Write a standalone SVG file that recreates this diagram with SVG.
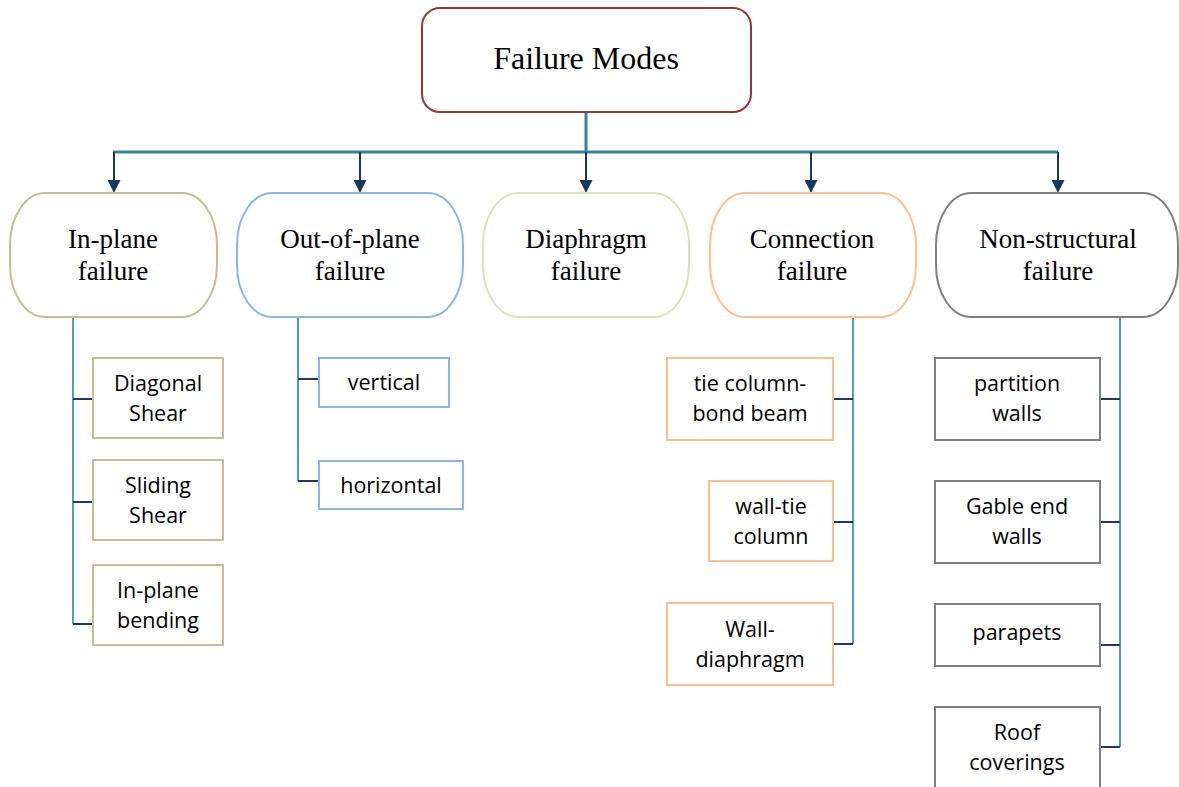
<svg xmlns="http://www.w3.org/2000/svg" width="1179" height="787" viewBox="0 0 1179 787">
<style>
.bg{fill:#ffffff}
.serif{font-family:"Liberation Serif","Times New Roman",serif;fill:#000;text-anchor:middle}
.top{font-size:32px}
.l2{font-size:27px}
.leaf{font-family:"Open Sans","Liberation Sans",sans-serif;font-size:21.5px;fill:#000;text-anchor:middle}
.box{fill:#fff;stroke-width:2}
.trunk{stroke:#31849B;stroke-width:3;fill:none}
.arrow{stroke:#17375E;stroke-width:2;fill:none}
.vbr{stroke:#31849B;stroke-width:1.6;fill:none}
.hbr{stroke:#1F3864;stroke-width:2;fill:none}
.tan{stroke:#C4BD97}
.blue{stroke:#8EB4E3}
.green{stroke:#D7E4BD}
.orange{stroke:#FAC090}
.gray{stroke:#7F7F7F}
</style>
<defs>
<marker id="ah" markerUnits="userSpaceOnUse" markerWidth="13" markerHeight="13" refX="0" refY="6.5" orient="auto">
<path d="M0,0 L13,6.5 L0,13 z" fill="#17375E"/>
</marker>
</defs>
<rect class="bg" x="0" y="0" width="1179" height="787"/>

<g id="connectors">
<path class="trunk" d="M586,112 V152 M113,152 H1058"/>
<path class="arrow" marker-end="url(#ah)" d="M114,152 V180"/>
<path class="arrow" marker-end="url(#ah)" d="M360,152 V180"/>
<path class="arrow" marker-end="url(#ah)" d="M586,152 V180"/>
<path class="arrow" marker-end="url(#ah)" d="M811,152 V180"/>
<path class="arrow" marker-end="url(#ah)" d="M1058,152 V180"/>
<path class="vbr" d="M73,317 V624"/>
<path class="hbr" d="M73,399 H93 M73,502 H93 M73,624 H93"/>
<path class="vbr" d="M298,317 V481"/>
<path class="hbr" d="M298,379 H319 M298,481 H319"/>
<path class="vbr" d="M853,317 V644"/>
<path class="hbr" d="M833,399 H853 M833,522 H853 M833,644 H853"/>
<path class="vbr" d="M1120,317 V747"/>
<path class="hbr" d="M1100,399 H1120 M1100,522 H1120 M1100,645 H1120 M1100,747 H1120"/>
</g>

<g id="failure-modes">
<rect class="box" x="422" y="8" width="329" height="104" rx="18" ry="18" stroke="#953735"/>
<text class="serif top" x="586" y="69">Failure Modes</text>
</g>

<g id="in-plane-failure">
<rect class="box tan" x="10" y="193" width="207" height="124" rx="35" ry="52"/>
<text class="serif l2" x="113" y="248">In-plane</text>
<text class="serif l2" x="113" y="280">failure</text>
</g>
<g id="out-of-plane-failure">
<rect class="box blue" x="237" y="193" width="226" height="124" rx="35" ry="52"/>
<text class="serif l2" x="350" y="248">Out-of-plane</text>
<text class="serif l2" x="350" y="280">failure</text>
</g>
<g id="diaphragm-failure">
<rect class="box green" x="483" y="193" width="206" height="124" rx="35" ry="52"/>
<text class="serif l2" x="586" y="248">Diaphragm</text>
<text class="serif l2" x="586" y="280">failure</text>
</g>
<g id="connection-failure">
<rect class="box orange" x="710" y="193" width="206" height="124" rx="35" ry="52"/>
<text class="serif l2" x="812" y="248">Connection</text>
<text class="serif l2" x="812" y="280">failure</text>
</g>
<g id="non-structural-failure">
<rect class="box gray" x="936" y="193" width="242" height="124" rx="35" ry="52"/>
<text class="serif l2" x="1058" y="248">Non-structural</text>
<text class="serif l2" x="1058" y="280">failure</text>
</g>

<g id="diagonal-shear">
<rect class="box tan" x="93" y="358" width="130" height="80"/>
<text class="leaf" x="158" y="391">Diagonal</text>
<text class="leaf" x="158" y="421">Shear</text>
</g>
<g id="sliding-shear">
<rect class="box tan" x="93" y="460" width="130" height="80"/>
<text class="leaf" x="158" y="493">Sliding</text>
<text class="leaf" x="158" y="523">Shear</text>
</g>
<g id="in-plane-bending">
<rect class="box tan" x="93" y="565" width="130" height="80"/>
<text class="leaf" x="158" y="598">In-plane</text>
<text class="leaf" x="158" y="628">bending</text>
</g>

<g id="vertical">
<rect class="box blue" x="319" y="358" width="130" height="49"/>
<text class="leaf" x="384" y="390">vertical</text>
</g>
<g id="horizontal">
<rect class="box blue" x="319" y="461" width="144" height="48"/>
<text class="leaf" x="391" y="493">horizontal</text>
</g>

<g id="tie-column-bond-beam">
<rect class="box orange" x="667" y="358" width="166" height="82"/>
<text class="leaf" x="750" y="391">tie column-</text>
<text class="leaf" x="750" y="421">bond beam</text>
</g>
<g id="wall-tie-column">
<rect class="box orange" x="709" y="481" width="124" height="80"/>
<text class="leaf" x="771" y="514">wall-tie</text>
<text class="leaf" x="771" y="544">column</text>
</g>
<g id="wall-diaphragm">
<rect class="box orange" x="667" y="603" width="166" height="82"/>
<text class="leaf" x="750" y="637">Wall-</text>
<text class="leaf" x="750" y="667">diaphragm</text>
</g>

<g id="partition-walls">
<rect class="box gray" x="935" y="358" width="165" height="82"/>
<text class="leaf" x="1017" y="391">partition</text>
<text class="leaf" x="1017" y="421">walls</text>
</g>
<g id="gable-end-walls">
<rect class="box gray" x="935" y="481" width="165" height="82"/>
<text class="leaf" x="1017" y="514">Gable end</text>
<text class="leaf" x="1017" y="544">walls</text>
</g>
<g id="parapets">
<rect class="box gray" x="935" y="604" width="165" height="62"/>
<text class="leaf" x="1017" y="640">parapets</text>
</g>
<g id="roof-coverings">
<rect class="box gray" x="935" y="707" width="165" height="90"/>
<text class="leaf" x="1017" y="740">Roof</text>
<text class="leaf" x="1017" y="770">coverings</text>
</g>
</svg>
